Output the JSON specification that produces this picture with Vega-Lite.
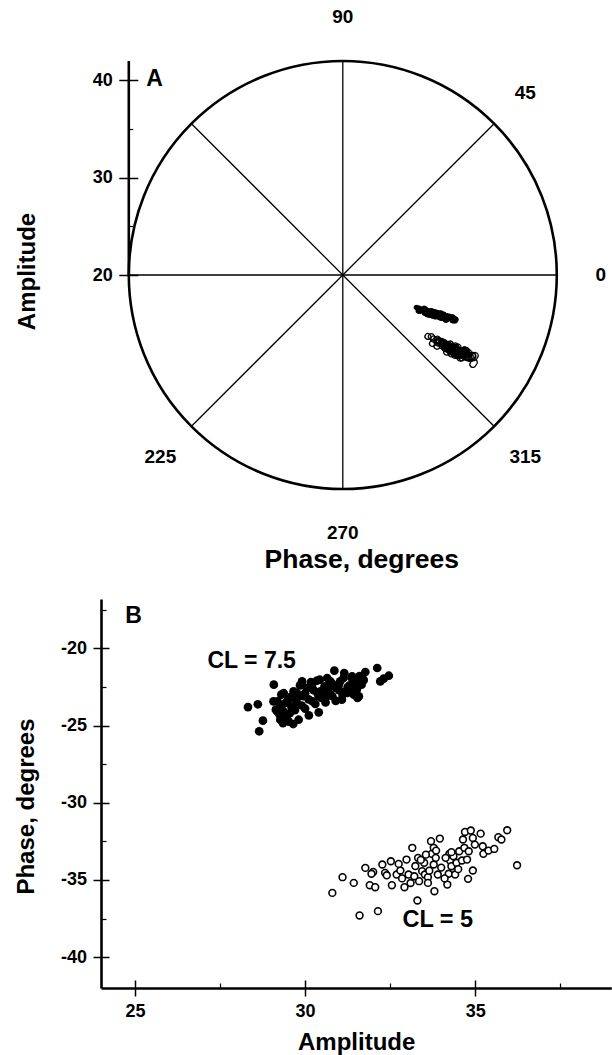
{
  "$schema": "https://vega.github.io/schema/vega-lite/v6.json",
  "background": "white",
  "padding": {"left": 14, "top": 8, "right": 0, "bottom": 0},
  "spacing": 26,
  "datasets": {
    "cl75": [
      {"amp":28.32,"phase":-23.80},{"amp":28.61,"phase":-23.62},{"amp":28.76,"phase":-24.68},{"amp":28.65,"phase":-25.37},{"amp":29.08,"phase":-22.35},
      {"amp":29.07,"phase":-23.43},{"amp":29.14,"phase":-23.97},{"amp":29.30,"phase":-23.00},{"amp":29.42,"phase":-23.54},{"amp":29.60,"phase":-23.80},
      {"amp":29.36,"phase":-24.08},{"amp":29.65,"phase":-23.26},{"amp":29.76,"phase":-22.89},{"amp":29.94,"phase":-23.10},{"amp":30.05,"phase":-22.57},
      {"amp":30.17,"phase":-22.18},{"amp":30.22,"phase":-23.43},{"amp":30.36,"phase":-22.89},{"amp":30.43,"phase":-22.03},{"amp":30.48,"phase":-23.21},
      {"amp":30.57,"phase":-22.46},{"amp":30.68,"phase":-22.78},{"amp":30.74,"phase":-22.14},{"amp":30.80,"phase":-23.10},{"amp":30.91,"phase":-22.57},
      {"amp":31.03,"phase":-22.14},{"amp":31.08,"phase":-23.32},{"amp":31.20,"phase":-22.78},{"amp":31.31,"phase":-22.39},{"amp":31.37,"phase":-21.92},
      {"amp":31.43,"phase":-23.00},{"amp":31.54,"phase":-23.21},{"amp":31.66,"phase":-22.35},{"amp":31.72,"phase":-22.03},{"amp":31.52,"phase":-22.67},
      {"amp":30.86,"phase":-21.44},{"amp":32.12,"phase":-21.27},{"amp":31.77,"phase":-21.53},{"amp":32.31,"phase":-21.96},{"amp":32.46,"phase":-21.77},
      {"amp":32.21,"phase":-22.14},{"amp":29.81,"phase":-24.62},{"amp":30.11,"phase":-24.34},{"amp":30.40,"phase":-24.14},{"amp":29.52,"phase":-24.74},
      {"amp":29.27,"phase":-24.62},{"amp":29.18,"phase":-24.08},{"amp":29.19,"phase":-23.43},{"amp":29.37,"phase":-22.89},{"amp":29.66,"phase":-22.78},
      {"amp":29.91,"phase":-22.14},{"amp":29.81,"phase":-23.11},{"amp":30.06,"phase":-22.57},{"amp":30.35,"phase":-22.09},{"amp":30.45,"phase":-22.78},
      {"amp":30.65,"phase":-21.92},{"amp":30.74,"phase":-23.00},{"amp":30.99,"phase":-22.35},{"amp":31.13,"phase":-21.92},{"amp":31.24,"phase":-22.89},
      {"amp":31.38,"phase":-21.81},{"amp":31.48,"phase":-22.57},{"amp":31.58,"phase":-23.11},{"amp":31.71,"phase":-22.09},
      {"amp":29.25,"phase":-24.30},{"amp":29.45,"phase":-24.45},{"amp":29.55,"phase":-24.20},{"amp":29.70,"phase":-24.00},{"amp":29.90,"phase":-23.70},
      {"amp":30.00,"phase":-23.90},{"amp":30.30,"phase":-23.60},{"amp":30.60,"phase":-23.50},{"amp":30.90,"phase":-23.40},{"amp":31.10,"phase":-23.00},
      {"amp":29.30,"phase":-23.70},{"amp":29.50,"phase":-23.30},{"amp":29.75,"phase":-23.50},{"amp":30.10,"phase":-23.30},{"amp":30.25,"phase":-22.70},
      {"amp":30.55,"phase":-22.90},{"amp":30.75,"phase":-22.40},{"amp":31.00,"phase":-22.70},{"amp":31.25,"phase":-22.50},{"amp":31.50,"phase":-22.20},
      {"amp":29.60,"phase":-23.10},{"amp":30.00,"phase":-22.90},{"amp":30.40,"phase":-23.10},{"amp":30.80,"phase":-22.30},{"amp":31.15,"phase":-21.60},
      {"amp":31.60,"phase":-21.80},{"amp":29.85,"phase":-22.40},{"amp":30.20,"phase":-22.40},{"amp":29.35,"phase":-24.85},{"amp":29.65,"phase":-24.90},
      {"amp":30.60,"phase":-23.20},{"amp":31.35,"phase":-22.70}
    ],
    "cl5": [
      {"amp":30.80,"phase":-35.84},{"amp":31.10,"phase":-34.82},{"amp":31.43,"phase":-35.19},{"amp":31.60,"phase":-37.30},{"amp":31.77,"phase":-34.22},
      {"amp":31.90,"phase":-35.34},{"amp":32.06,"phase":-35.47},{"amp":32.14,"phase":-37.02},{"amp":32.00,"phase":-34.48},{"amp":32.27,"phase":-34.00},
      {"amp":32.35,"phase":-34.54},{"amp":32.52,"phase":-33.79},{"amp":32.55,"phase":-35.34},{"amp":32.69,"phase":-34.65},{"amp":32.80,"phase":-34.39},
      {"amp":32.92,"phase":-35.47},{"amp":32.98,"phase":-33.68},{"amp":33.04,"phase":-34.65},{"amp":33.15,"phase":-32.92},{"amp":33.24,"phase":-34.10},
      {"amp":33.30,"phase":-36.33},{"amp":33.32,"phase":-33.57},{"amp":33.35,"phase":-35.08},{"amp":33.44,"phase":-34.43},{"amp":33.50,"phase":-33.89},
      {"amp":33.52,"phase":-34.65},{"amp":33.61,"phase":-34.82},{"amp":33.61,"phase":-35.19},{"amp":33.70,"phase":-32.49},{"amp":33.72,"phase":-33.31},
      {"amp":33.78,"phase":-32.92},{"amp":33.78,"phase":-34.00},{"amp":33.80,"phase":-35.73},{"amp":33.84,"phase":-33.57},{"amp":33.90,"phase":-34.65},
      {"amp":33.96,"phase":-32.32},{"amp":34.18,"phase":-35.30},{"amp":34.22,"phase":-34.60},{"amp":34.24,"phase":-33.31},{"amp":34.26,"phase":-33.74},
      {"amp":34.30,"phase":-34.11},{"amp":34.36,"phase":-33.46},{"amp":34.41,"phase":-34.65},{"amp":34.45,"phase":-33.89},{"amp":34.53,"phase":-33.14},
      {"amp":34.61,"phase":-33.74},{"amp":34.64,"phase":-32.38},{"amp":34.68,"phase":-32.92},{"amp":34.70,"phase":-31.89},{"amp":34.76,"phase":-33.68},
      {"amp":34.79,"phase":-34.93},{"amp":34.81,"phase":-33.14},{"amp":34.87,"phase":-31.80},{"amp":34.93,"phase":-32.28},{"amp":34.93,"phase":-34.39},
      {"amp":34.99,"phase":-32.71},{"amp":35.16,"phase":-32.00},{"amp":35.22,"phase":-32.82},{"amp":35.24,"phase":-33.31},{"amp":35.39,"phase":-33.10},
      {"amp":35.56,"phase":-32.99},{"amp":35.68,"phase":-32.23},{"amp":35.77,"phase":-32.38},{"amp":35.94,"phase":-31.78},{"amp":36.23,"phase":-34.05},
      {"amp":34.00,"phase":-34.20},{"amp":34.13,"phase":-33.57},{"amp":33.21,"phase":-34.76},{"amp":32.75,"phase":-33.96},{"amp":33.55,"phase":-33.36},
      {"amp":34.50,"phase":-34.30},{"amp":33.10,"phase":-35.20},{"amp":32.40,"phase":-34.70},{"amp":33.40,"phase":-33.70},{"amp":34.10,"phase":-34.90},
      {"amp":33.85,"phase":-33.10},{"amp":34.30,"phase":-33.20},{"amp":32.85,"phase":-34.90},{"amp":33.65,"phase":-34.40},{"amp":31.95,"phase":-34.60}
    ]
  },
  "vconcat": [
    {
      "width": 455.8,
      "height": 428,
      "layer": [
        {
          "data": {"values": [{"k": 1}]},
          "mark": {"type": "point", "shape": "circle", "size": 183184, "filled": false, "stroke": "#000", "strokeWidth": 2.6, "opacity": 1},
          "encoding": {
            "x": {"datum": 0, "type": "quantitative", "scale": {"domain": [-24.857, 22], "nice": false, "zero": false},
              "axis": {"orient": "bottom", "domain": false, "ticks": false, "labels": false, "grid": false, "title": "Phase, degrees", "titlePadding": 57, "titleX": 260.3, "titleFontSize": 26.5}},
            "y": {"datum": 20, "type": "quantitative", "scale": {"domain": [-2, 42], "nice": false, "zero": false},
              "axis": {"orient": "left", "offset": -27.8, "values": [20, 30, 40], "domain": false, "grid": false, "tickSize": 10, "tickWidth": 1.5, "labelPadding": 6.5, "labelExpr": "'' + datum.value", "title": "Amplitude", "titleX": -89.5, "titleY": 210, "titleFontSize": 24}}
          }
        },
        {
          "data": {"values": [
            {"x": -22, "y": 20, "x2": 22, "y2": 20},
            {"x": 0, "y": -2, "x2": 0, "y2": 42},
            {"x": -15.556, "y": 4.444, "x2": 15.556, "y2": 35.556},
            {"x": -15.556, "y": 35.556, "x2": 15.556, "y2": 4.444}
          ]},
          "mark": {"type": "rule", "stroke": "#000", "strokeWidth": 1.3},
          "encoding": {
            "x": {"field": "x", "type": "quantitative", "scale": {"domain": [-24.857, 22], "nice": false, "zero": false}, "axis": null},
            "y": {"field": "y", "type": "quantitative", "scale": {"domain": [-2, 42], "nice": false, "zero": false},
              "axis": {"orient": "left", "offset": -27.8, "values": [25, 35], "domain": false, "grid": false, "labels": false, "tickSize": -4, "tickWidth": 1.2, "title": null}},
            "x2": {"field": "x2"},
            "y2": {"field": "y2"}
          }
        },
        {
          "data": {"values": [{"k": 1}]},
          "mark": {"type": "rule", "stroke": "#000", "strokeWidth": 2.6},
          "encoding": {
            "x": {"datum": -22, "type": "quantitative", "scale": {"domain": [-24.857, 22], "nice": false, "zero": false}, "axis": null},
            "y": {"datum": 20, "type": "quantitative", "scale": {"domain": [-2, 42], "nice": false, "zero": false},
              "axis": {"orient": "left", "offset": -27.8, "values": [20, 30, 40], "domain": false, "grid": false, "labels": false, "tickSize": -9, "tickWidth": 1.5, "title": null}},
            "y2": {"datum": 42}
          }
        },
        {
          "data": {"name": "cl75"},
          "mark": {"type": "arc", "fill": "#000", "stroke": "#000", "strokeWidth": 1.8, "strokeJoin": "round", "cornerRadius": 2.3,
            "thetaOffset": -0.023, "theta2Offset": 0.023, "radiusOffset": 2.3, "radius2Offset": -2.3},
          "encoding": {
            "x": {"datum": 0, "type": "quantitative", "axis": null},
            "y": {"datum": 20, "type": "quantitative", "axis": null},
            "theta": {"field": "phase", "type": "quantitative", "stack": null, "scale": {"type": "linear", "domain": [0, 360], "range": [1.5708, -4.7124], "zero": false}},
            "theta2": {"field": "phase"},
            "radius": {"field": "amp", "type": "quantitative", "scale": {"type": "linear", "domain": [20, 42], "range": [0, 214], "zero": false}},
            "radius2": {"field": "amp"}
          }
        },
        {
          "data": {"name": "cl5"},
          "mark": {"type": "arc", "fill": "#fff", "fillOpacity": 0, "stroke": "#000", "strokeWidth": 1.3, "strokeJoin": "round", "cornerRadius": 3,
            "thetaOffset": -0.027, "theta2Offset": 0.027, "radiusOffset": 3, "radius2Offset": -3},
          "encoding": {
            "x": {"datum": 0, "type": "quantitative", "axis": null},
            "y": {"datum": 20, "type": "quantitative", "axis": null},
            "theta": {"field": "phase", "type": "quantitative", "stack": null, "scale": {"type": "linear", "domain": [0, 360], "range": [1.5708, -4.7124], "zero": false}},
            "theta2": {"field": "phase"},
            "radius": {"field": "amp", "type": "quantitative", "scale": {"type": "linear", "domain": [20, 42], "range": [0, 214], "zero": false}},
            "radius2": {"field": "amp"}
          }
        },
        {
          "data": {"values": [
            {"label": "0", "angle": 0}, {"label": "45", "angle": 45}, {"label": "90", "angle": 90},
            {"label": "225", "angle": 225}, {"label": "270", "angle": 270}, {"label": "315", "angle": 315}
          ]},
          "mark": {"type": "text", "fontSize": 19, "fontWeight": "bold", "fill": "#000", "align": "center", "baseline": "middle"},
          "encoding": {
            "x": {"datum": 0, "type": "quantitative", "axis": null},
            "y": {"datum": 20, "type": "quantitative", "axis": null},
            "theta": {"field": "angle", "type": "quantitative", "stack": null, "scale": {"type": "linear", "domain": [0, 360], "range": [1.5708, -4.7124], "zero": false}},
            "radius": {"value": 258},
            "text": {"field": "label"}
          }
        },
        {
          "data": {"values": [{"label": "A"}]},
          "mark": {"type": "text", "fontSize": 23, "fontWeight": "bold", "fill": "#000", "align": "left", "baseline": "alphabetic"},
          "encoding": {
            "x": {"datum": -20.2, "type": "quantitative", "axis": null},
            "y": {"datum": 39.43, "type": "quantitative", "axis": null},
            "text": {"field": "label"}
          }
        }
      ],
      "resolve": {"axis": {"x": "independent", "y": "independent"}}
    },
    {
      "width": 510.3,
      "height": 389,
      "layer": [
        {
          "data": {"name": "cl75"},
          "mark": {"type": "point", "shape": "circle", "filled": true, "size": 76, "fill": "#000", "opacity": 1},
          "encoding": {
            "x": {"field": "amp", "type": "quantitative", "scale": {"domain": [24, 39], "nice": false, "zero": false},
              "axis": {"orient": "bottom", "values": [25, 30, 35], "grid": false, "tickSize": 8, "tickWidth": 1.5, "domainWidth": 2.6, "labelPadding": 6.5, "labelExpr": "'' + datum.value", "title": "Amplitude", "titlePadding": 10, "titleFontSize": 24}},
            "y": {"field": "phase", "type": "quantitative", "scale": {"domain": [-42, -16.8], "nice": false, "zero": false},
              "axis": {"orient": "left", "values": [-20, -25, -30, -35, -40], "grid": false, "tickSize": 8, "tickWidth": 1.5, "domainWidth": 2.6, "labelPadding": 6.5, "labelExpr": "'' + datum.value", "title": "Phase, degrees", "titleX": -62.7, "titleY": 207, "titleFontSize": 24}}
          }
        },
        {
          "data": {"name": "cl5"},
          "mark": {"type": "point", "shape": "circle", "filled": true, "size": 46, "fill": "#fff", "stroke": "#000", "strokeWidth": 1.6, "opacity": 1},
          "encoding": {
            "x": {"field": "amp", "type": "quantitative", "scale": {"domain": [24, 39], "nice": false, "zero": false},
              "axis": {"orient": "bottom", "values": [25, 30, 35], "grid": false, "domain": false, "labels": false, "tickSize": -8, "tickWidth": 1.5, "title": null}},
            "y": {"field": "phase", "type": "quantitative", "scale": {"domain": [-42, -16.8], "nice": false, "zero": false},
              "axis": {"orient": "left", "values": [-20, -25, -30, -35, -40], "grid": false, "domain": false, "labels": false, "tickSize": -8, "tickWidth": 1.5, "title": null}}
          }
        },
        {
          "data": {"values": [{"label": "CL = 7.5"}]},
          "mark": {"type": "text", "fontSize": 23, "fontWeight": "bold", "fill": "#000", "align": "left", "baseline": "alphabetic"},
          "encoding": {
            "x": {"datum": 27.13, "type": "quantitative",
              "axis": {"orient": "bottom", "values": [27.5, 32.5, 37.5], "grid": false, "domain": false, "labels": false, "tickSize": -5, "tickWidth": 1.2, "title": null}},
            "y": {"datum": -21.3, "type": "quantitative",
              "axis": {"orient": "left", "values": [-17.5, -22.5, -27.5, -32.5, -37.5], "grid": false, "domain": false, "labels": false, "tickSize": -5, "tickWidth": 1.2, "title": null}},
            "text": {"field": "label"}
          }
        },
        {
          "data": {"values": [{"label": "CL = 5"}]},
          "mark": {"type": "text", "fontSize": 23.5, "fontWeight": "bold", "fill": "#000", "align": "left", "baseline": "alphabetic"},
          "encoding": {
            "x": {"datum": 32.86, "type": "quantitative", "axis": null},
            "y": {"datum": -38.06, "type": "quantitative", "axis": null},
            "text": {"field": "label"}
          }
        },
        {
          "data": {"values": [{"label": "B"}]},
          "mark": {"type": "text", "fontSize": 23, "fontWeight": "bold", "fill": "#000", "align": "left", "baseline": "alphabetic"},
          "encoding": {
            "x": {"datum": 24.71, "type": "quantitative", "axis": null},
            "y": {"datum": -18.38, "type": "quantitative", "axis": null},
            "text": {"field": "label"}
          }
        }
      ],
      "resolve": {"axis": {"x": "independent", "y": "independent"}}
    }
  ],
  "config": {
    "font": "Liberation Sans",
    "view": {"stroke": null},
    "axis": {
      "labelFont": "Liberation Sans", "titleFont": "Liberation Sans",
      "labelFontWeight": "bold", "titleFontWeight": "bold",
      "labelFontSize": 18, "titleFontSize": 24,
      "labelColor": "#000", "titleColor": "#000", "tickColor": "#000", "domainColor": "#000",
      "grid": false
    },
    "text": {"font": "Liberation Sans"}
  }
}
